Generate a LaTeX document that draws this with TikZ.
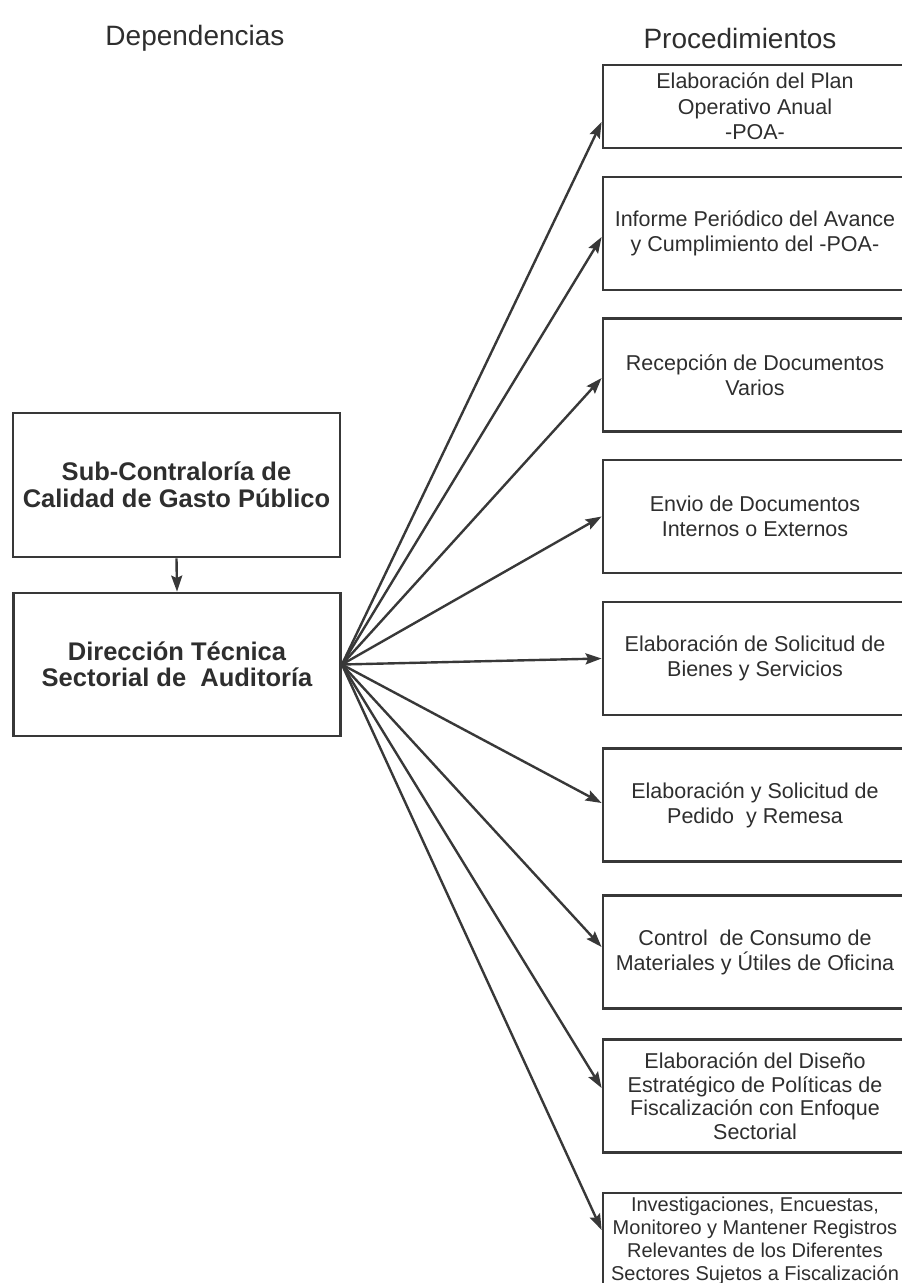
\documentclass[tikz,border=0pt]{standalone}
\usepackage{fontspec}
\setmainfont{Liberation Sans}
\usetikzlibrary{arrows.meta}
\definecolor{ink}{HTML}{383838}
\definecolor{txt}{HTML}{2E2E2E}
\begin{document}
\begin{tikzpicture}[x=1pt,y=-1pt,
  header/.style={text=txt,font=\fontsize{28}{32}\selectfont,inner sep=0pt},
  depbox/.style={draw=ink,line width=2.8pt,rectangle,minimum width=327pt,
    align=center,text=txt,font=\bfseries\fontsize{25.5}{26.5}\selectfont},
  procbox/.style={draw=ink,line width=2.8pt,rectangle,minimum width=304pt,
    minimum height=113pt,align=center,text=txt,
    font=\fontsize{21.5}{25}\selectfont},
  link/.style={draw=ink,line width=2.4pt,-{Stealth[length=16pt,width=11pt,inset=2.5pt]}}]
\useasboundingbox (0,0) rectangle (902,1283);
\clip (0,0) rectangle (902,1283);

% column headers
\node[header] (hdep) at (195,38) {Dependencias};
\node[header] (hproc) at (740,38) {Procedimientos};

% dependencies
\node[depbox,minimum height=144pt] (sub) at (176.5,485)
  {Sub-Contraloría de\\Calidad de Gasto Público};
\node[depbox,minimum height=143pt] (dir) at (177,664.5)
  {Dirección Técnica\\Sectorial de\ \ Auditoría};

% procedures
\node[procbox,minimum height=83pt,font=\fontsize{21.5}{25.5}\selectfont] (p1) at (755,106.5)
  {Elaboración del Plan\\Operativo Anual\\-POA-};
\node[procbox] (p2) at (755,233.5)
  {Informe Periódico del Avance\\y Cumplimiento del -POA-};
\node[procbox] (p3) at (755,375)
  {Recepción de Documentos\\Varios};
\node[procbox] (p4) at (755,516.5)
  {Envio de Documentos\\Internos o Externos};
\node[procbox] (p5) at (755,658.5)
  {Elaboración de Solicitud de\\Bienes y Servicios};
\node[procbox] (p6) at (755,805)
  {Elaboración y Solicitud de\\Pedido\ \ y Remesa};
\node[procbox] (p7) at (755,952)
  {Control\ \ de Consumo de\\Materiales y Útiles de Oficina};
\node[procbox,font=\fontsize{21.5}{23.5}\selectfont] (p8) at (755,1096)
  {Elaboración del Diseño\\Estratégico de Políticas de\\Fiscalización con Enfoque\\Sectorial};
\node[procbox,minimum height=96pt,font=\fontsize{20}{23}\selectfont] (p9) at (755,1241)
  {Investigaciones, Encuestas,\\Monitoreo y Mantener Registros\\Relevantes de los Diferentes\\Sectores Sujetos a Fiscalización};

% connectors
\draw[link] (sub.south) -- (dir.north);
\draw[link] (dir.east) -- ([yshift=-15.5pt]p1.west);
\draw[link] (dir.east) -- ([yshift=-3.5pt]p2.west);
\draw[link] (dir.east) -- ([yshift=-3pt]p3.west);
\draw[link] (dir.east) -- (p4.west);
\draw[link] (dir.east) -- (p5.west);
\draw[link] (dir.east) -- ([yshift=2pt]p6.west);
\draw[link] (dir.east) -- ([yshift=5pt]p7.west);
\draw[link] (dir.east) -- ([yshift=8pt]p8.west);
\draw[link] (dir.east) -- ([yshift=11pt]p9.west);
\end{tikzpicture}
\end{document}
